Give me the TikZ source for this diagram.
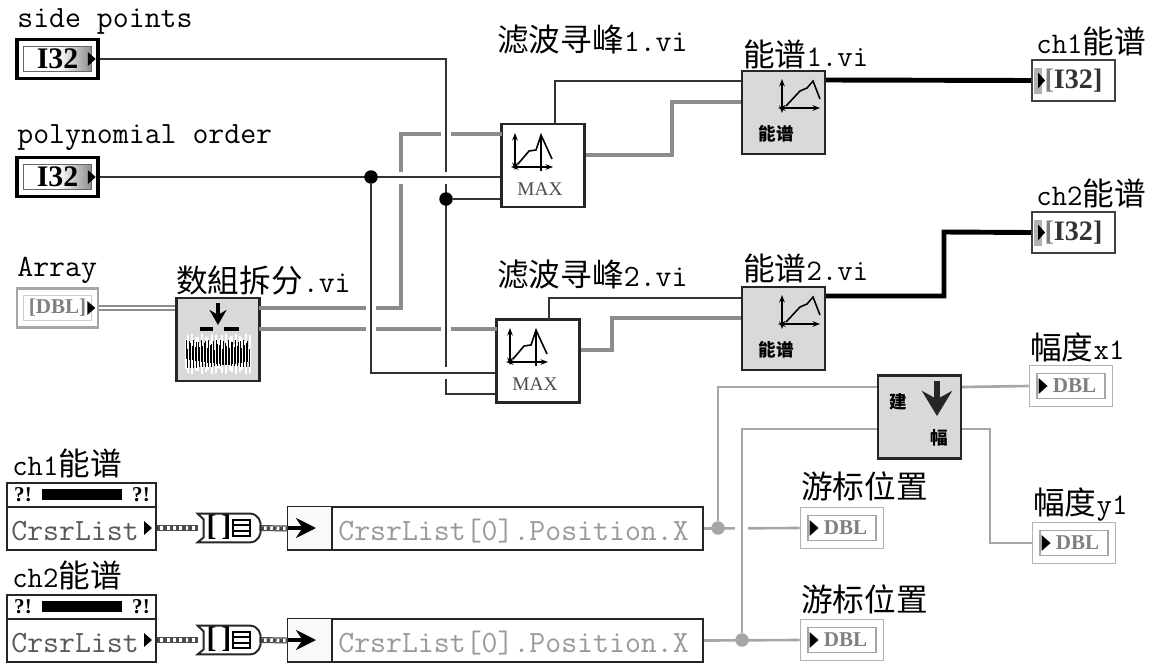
\documentclass[tikz,border=0pt]{standalone}
\usepackage{fontspec}
\usepackage{xcolor}
\usepackage{tikz}
\usetikzlibrary{arrows.meta,positioning,calc}
\newfontfamily\cjk{Noto Sans CJK SC}
\newfontfamily\tagfont{Liberation Serif}
\newcommand{\cjklab}{\cjk\fontsize{18}{20}\selectfont}
\definecolor{wiregray}{gray}{0.55}
\definecolor{lightwire}{gray}{0.65}
\definecolor{blockgray}{gray}{0.85}

\begin{document}
\begin{tikzpicture}[
    x=0.02cm, y=-0.02cm,
    lab/.style={anchor=west, inner sep=0pt, font=\ttfamily\fontsize{17.6}{20}\selectfont},
    vilab/.style={anchor=west, inner sep=0pt, font=\ttfamily\fontsize{17}{20}\selectfont},
    block/.style={draw=black!85, line width=1.3pt, fill=blockgray, minimum width=1.66cm, minimum height=1.66cm, inner sep=0pt},
    peakbox/.style={block, fill=white},
    smalltag/.style={inner sep=0pt, font=\cjk\bfseries\fontsize{10}{11}\selectfont},
    ctlbox/.style={draw=black, line width=2pt, fill=white, minimum width=1.62cm, minimum height=0.78cm, inner sep=0pt},
    ctlinner/.style={draw=black!60, line width=0.8pt, left color=white, right color=gray!90, middle color=white, minimum width=1.36cm, minimum height=0.5cm, inner sep=0pt, font=\tagfont\bfseries\fontsize{17}{18}\selectfont},
    arrbox/.style={ctlbox, draw=gray!70, line width=1.5pt},
    i32box/.style={draw=black!75, line width=1.1pt, fill=white, minimum width=1.66cm, minimum height=0.82cm, inner sep=0pt, font=\tagfont\bfseries\fontsize{16}{17}\selectfont, text=black!80},
    dblbox/.style={draw=gray!60, line width=1.1pt, fill=white, minimum width=1.66cm, minimum height=0.82cm, inner sep=0pt},
    dblinner/.style={draw=gray!70, line width=1pt, fill=white, minimum width=1.36cm, minimum height=0.5cm, inner sep=0pt, font=\tagfont\bfseries\fontsize{12}{13}\selectfont, text=gray},
    clusterbox/.style={draw=black!85, line width=1pt, fill=white, minimum width=2.98cm, minimum height=1.34cm, inner sep=0pt},
    propbox/.style={draw=black!85, line width=1pt, fill=white, minimum width=8.3cm, minimum height=0.86cm, inner sep=0pt},
    wire/.style={draw=black!80, line width=1.3pt},
    graywire/.style={draw=wiregray, line width=2.2pt},
    lightw/.style={draw=lightwire, line width=1.5pt},
    fatwire/.style={draw=black, line width=2.8pt},
    bundle/.style={draw=black!70, line width=0.7pt, double=white, double distance=2pt,
        postaction={draw=black!70, double=none, line width=2pt, dash pattern=on 2pt off 1.6pt}},
    dot/.style={circle, fill=#1, minimum size=0.27cm, inner sep=0pt},
    cut/.style={fill=white}
]
\useasboundingbox (0,0) rectangle (1152,666);

% front panel terminals on the left
\node[lab] (lsp) at (17,21) {side points};
\node[lab] (lpo) at (17,138) {polynomial order};
\node[lab] (lar) at (17,270) {Array};
\node[ctlbox] (ctla) at (57.5,59) {};
\node[ctlinner] at (ctla) {I32\hspace{5pt}};
\node[ctlbox] (ctlb) at (57.5,177) {};
\node[ctlinner] at (ctlb) {I32\hspace{5pt}};
\node[arrbox] (arr) at (57.5,308) {};
\node[dblinner, draw=gray!40] at (arr) {[DBL]};
\foreach \n in {ctla,ctlb,arr}
    \fill[black] ($(\n.east)+(-12,-7)$) -- ++(0,14) -- ++(8,-7) -- cycle;

% blocks
\node[block] (split) at (218,339.5) {};
\node[lab] (lsplit) at (176,280) {{\cjklab 数組拆分}.vi};
\node[peakbox] (fa) at (543,165.5) {};
\node[peakbox] (fb) at (538,361) {};
\node[lab] (lfa) at (497,40) {{\cjklab 滤波寻峰}1.vi};
\node[lab] (lfb) at (497,275) {{\cjklab 滤波寻峰}2.vi};
\node[block] (ea) at (783.5,112.5) {};
\node[block] (eb) at (783.5,328.5) {};
\node[vilab] (lea) at (743,54) {{\cjklab 能谱}1.vi};
\node[vilab] (leb) at (743,268) {{\cjklab 能谱}2.vi};
\node[block] (bd) at (919.5,417) {};

% right side indicators
\node[vilab] (lcha) at (1036,41) {ch1{\cjklab 能谱}};
\node[vilab] (lchb) at (1036,193) {ch2{\cjklab 能谱}};
\node[i32box] (oa) at (1073.5,80.5) {\textcolor{gray}{[}I32]};
\node[i32box] (ob) at (1073.5,232.5) {\textcolor{gray}{[}I32]};
\foreach \n in {oa,ob} {
    \fill[gray!60] ($(\n.west)+(3,-13)$) rectangle ($(\n.west)+(11,13)$);
    \fill[black] ($(\n.west)+(7,-8)$) -- ++(0,16) -- ++(7,-8) -- cycle;
}
\node[vilab] (lxa) at (1030,347) {{\cjklab 幅度}x1};
\node[vilab] (lya) at (1033,505) {{\cjklab 幅度}y1};
\node[lab, font=\cjklab] (lca) at (801,486) {游标位置};
\node[lab, font=\cjklab] (lcb) at (801,599) {游标位置};
\node[dblbox] (dx) at (1071,386) {};
\node[dblbox] (dy) at (1074,543) {};
\node[dblbox] (ca) at (842,528) {};
\node[dblbox] (cb) at (842,640) {};
\foreach \n in {dx,dy,ca,cb} {
    \node[dblinner] at (\n) {\hspace{4pt}DBL};
    \fill[black] ($(\n.west)+(10,-8)$) -- ++(0,16) -- ++(9,-8) -- cycle;
}

% bottom row: cluster, index array, property node
\foreach \i/\t/\y in {a/1/528,b/2/640} {
    \node[vilab] (lst\i) at (12,\y-65) {ch\t{\cjklab 能谱}};
    \node[clusterbox] (st\i) at (81.5,\y-11.5) {};
    \draw[line width=1pt, black!85] (st\i.west |- 0,\y-21) -- (st\i.east |- 0,\y-21);
    \fill[black] (42,\y-39) rectangle (122,\y-28);
    \node[inner sep=0pt, font=\tagfont\bfseries\fontsize{12}{13}\selectfont] at (23,\y-33) {?!};
    \node[inner sep=0pt, font=\tagfont\bfseries\fontsize{12}{13}\selectfont] at (141,\y-33) {?!};
    \node[lab, text=black!65] (lc\i) at (11,\y+3) {CrsrList};
    \fill[black] (144,\y-7) -- ++(0,14) -- ++(8,-7) -- cycle;
    \node[inner sep=0pt, minimum width=1.24cm, minimum height=0.56cm] (idx\i) at (229,\y) {};
    \node[propbox] (prop\i) at (495.5,\y+0.5) {};
    \draw[bundle] (st\i.east |- idx\i) -- (idx\i.west);
    \draw[bundle] (idx\i.east) -- (prop\i.west);
    \draw[line width=1.1pt, black!85, fill=white] (idx\i.north west) -- ++(53,0) .. controls (258,\y-14) and (262,\y-6) .. (idx\i.east)
        .. controls (262,\y+6) and (258,\y+14) .. ($(idx\i.south west)+(53,0)$) -- (idx\i.south west) -- ++(6,-5) -- ++(0,-18) -- cycle;
    \node[inner sep=0pt, font=\tagfont\bfseries\fontsize{17}{18}\selectfont] at (219,\y-1) {[\,]};
    \draw[line width=0.9pt] (233,\y-8) rectangle (250,\y+8) (233,\y-3) -- (250,\y-3) (233,\y+3) -- (250,\y+3);
    \fill[gray!5] ($(prop\i.north west)+(1,1)$) rectangle (331,\y+21);
    \draw[line width=1pt, black!85] (332,\y-21) -- (332,\y+22);
    \draw[-{Stealth[length=4mm,width=4mm]}, line width=2pt] (288,\y) -- (316,\y);
    \node[lab, text=black!40] at (338,\y+3) {CrsrList[0].Position.X};
}

% grey wires first, the black ones run over them
\coordinate (faa) at (502,134);
\coordinate (fba) at (497,329);
\coordinate (sa) at (259,308);
\coordinate (sb) at (259,329);
\draw[draw=wiregray, line width=1pt, double=white, double distance=1.6pt] (arr.east) -- (split.west |- arr);
\draw[graywire] (sa) -| (401,134) -- (faa);
\draw[graywire] (sb) -- (fba);
\draw[graywire] (586,155) -| (672,102) -- (ea.west |- 0,102);
\draw[graywire] (581,350) -| (612,318) -- (eb.west |- 0,318);
\foreach \x/\y in {371/308,371/329,446/134,446/329}
    \fill[cut] (\x-5,\y-5) rectangle (\x+5,\y+5);
\draw[wire] (ctla.east) -| (446,394) -- (fb.west |- 0,394);
\foreach \x/\y in {446/178,446/373,401/178}
    \fill[cut] (\x-5,\y-6) rectangle (\x+5,\y+6);
\draw[wire] (ctlb.east) -- (fa.west |- ctlb);
\node[dot=black] (ja) at (371,177) {};
\draw[wire] (ja) -- (371,373) -- (fb.west |- 0,373);
\node[dot=black] (jb) at (446,199) {};
\draw[wire] (jb) -- (fa.west |- jb);
\draw[wire] (555,124) |- (ea.west |- 0,81);
\draw[wire] (549,319) |- (eb.west |- 0,298);
\draw[fatwire] (ea.east |- 0,80) -- (oa.west);
\draw[fatwire] (eb.east |- 0,296) -| (944,232) -- (ob.west);

% lower right wires
\draw[lightw] (propa.east) -- (ca.west);
\fill[cut] (735,523) rectangle (748,533);
\node[dot=lightwire] (jc) at (718,528) {};
\node[dot=lightwire] (jd) at (742,640) {};
\draw[lightw] (propb.east) -- (cb.west);
\draw[lightw] (jc) |- (bd.west |- 0,387);
\draw[lightw] (jd) |- (bd.west |- 0,429);
\draw[lightw] (bd.east |- 0,387) -- (dx.west);
\draw[lightw] (bd.east |- 0,429) -| (990,543) -- (dy.west);

% block icons
\draw[-{Stealth[length=3mm,width=3.4mm]}, line width=2.4pt] (218,303) -- (218,325);
\draw[line width=1.8pt] (200,329) -- (213,329) (224,329) -- (239,329);
\foreach \x in {186,188,...,250}
    \draw[white, line width=0.8pt] (\x,{354-(6+14*abs(sin(\x*53)))}) -- (\x,{354+(6+14*abs(sin(\x*53)))});
\foreach \x in {186,187.5,...,250}
    \draw[black, line width=0.55pt] (\x,{354-(4+10*abs(sin(\x*47)))}) -- (\x,{354+(4+10*abs(sin(\x*61)))});
\foreach \n/\dx/\dy in {fa/515/167,fb/510/362} {
    \draw[{Stealth[length=1.5mm]}-{Stealth[length=1.5mm]}, line width=0.9pt] (\dx,\dy-34) -- (\dx,\dy+3);
    \draw[{Stealth[length=1.5mm]}-{Stealth[length=1.5mm]}, line width=0.9pt] (\dx-4,\dy) -- (\dx+38,\dy);
    \draw[line width=0.9pt] (\dx+3,\dy-3) -- (\dx+14,\dy-16) -- (\dx+21,\dy-17) -- (\dx+26,\dy-32) -- (\dx+37,\dy-8);
    \draw[line width=0.9pt] (\dx+26,\dy-32) -- (\dx+26,\dy+4);
    \node[inner sep=0pt, text=black!70, font=\tagfont\fontsize{11}{12}\selectfont] at (\dx+25,\dy+22) {MAX};
}
\foreach \n/\dy in {ea/108,eb/324} {
    \draw[{Stealth[length=1.5mm]}-{Stealth[length=1.5mm]}, line width=0.9pt] (782,\dy-29) -- (782,\dy+5);
    \draw[{Stealth[length=1.5mm]}-{Stealth[length=1.5mm]}, line width=0.9pt] (778,\dy) -- (820,\dy);
    \draw[line width=0.9pt] (786,\dy-2) -- (800,\dy-17) -- (807,\dy-20) -- (813,\dy-27) -- (820,\dy-9);
    \node[smalltag] at (776,\dy+26) {能谱};
}
\draw[-{Stealth[length=5mm,width=6mm]}, line width=3pt, black!85] (937,381) -- (937,416);
\node[smalltag] at (898,402) {建};
\node[smalltag] at (939,438) {幅};
\end{tikzpicture}
\end{document}
